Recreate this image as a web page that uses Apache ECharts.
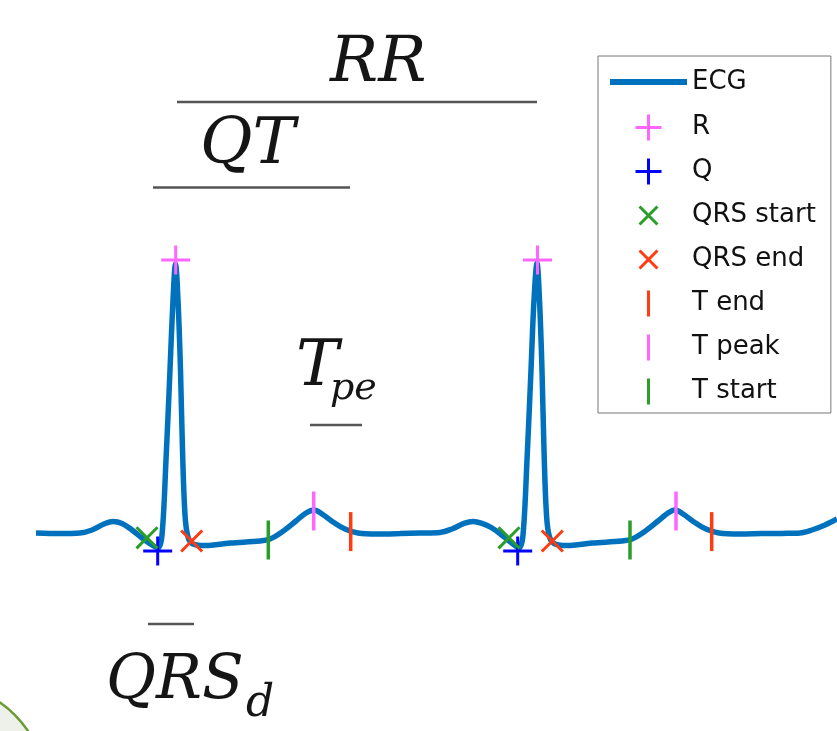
<!DOCTYPE html>
<html>
<head>
<meta charset="utf-8">
<script src="https://cdn.jsdelivr.net/npm/echarts@6/dist/echarts.min.js"></script>
<style>
html,body{margin:0;padding:0;background:#fff;}
#chart{width:837px;height:731px;}
</style>
</head>
<body>
<div id="chart"></div>
<script>
// ECG trace: time (ms) and amplitude (mV)
const ecgTime = [0,48,88,112,136,154,172,192,212,232,244,252,260,268,274,279,284,289,293,298,304,314,338,388,448,468,492,520,540,556,572,594,618,644,682,728,768,808,832,856,874,892,912,934,954,966,974,982,990,996,1002,1007,1012,1016,1021,1027,1038,1062,1112,1172,1192,1216,1244,1264,1278,1294,1316,1340,1366,1408,1452,1492,1528,1552,1578,1602];
const ecgAmp  = [0,-0.003,0,0.015,0.045,0.058,0.048,0.015,-0.025,-0.06,-0.075,-0.01,0.365,0.815,1.165,1.345,1.165,0.815,0.415,0.09,-0.02,-0.055,-0.063,-0.05,-0.04,-0.03,0.005,0.06,0.1,0.115,0.095,0.055,0.02,0,-0.005,-0.003,0,0.003,0.02,0.048,0.058,0.048,0.025,-0.015,-0.055,-0.075,-0.01,0.365,0.815,1.165,1.35,1.165,0.815,0.415,0.09,-0.02,-0.055,-0.063,-0.05,-0.04,-0.03,0.005,0.06,0.1,0.115,0.095,0.055,0.02,0,-0.005,-0.003,-0.002,0,0.015,0.04,0.07];

// Fiducial points (time ms, amplitude mV)
const rTime = [279.4, 1003];       const rAmp = [1.365, 1.365];
const qTime = [243.4, 963.4];      const qAmp = [-0.09, -0.09];
const qrsStartTime = [222, 946];   const qrsStartAmp = [-0.024, -0.024];
const qrsEndTime = [311.4, 1032.6];const qrsEndAmp = [-0.04, -0.04];
const tEndTime = [629.4, 1351.4];  const tEndAmp = [0.007, 0.007];
const tPeakTime = [555.4, 1280];   const tPeakAmp = [0.11, 0.11];
const tStartTime = [464.6, 1188];  const tStartAmp = [-0.035, -0.035];

const seriesNames = ['ECG','R','Q','QRS start','QRS end','T end','T peak','T start'];

const zip = (a, b) => a.map((v, i) => [v, b[i]]);

const PLUS = 'path://M0,-1L0,1M-1,0L1,0';
const CROSS = 'path://M-1,-1L1,1M-1,1L1,-1M-1.45,-1.45M1.45,1.45';
const BAR = 'path://M0,-1L0,1M-1,0M1,0';
const LINEICON = 'path://M0,0L77,0M0,-13M0,13';

function markerSeries(name, xs, ys, symbol, size, color, bw) {
  return {
    name: name, type: 'scatter', data: zip(xs, ys),
    symbol: symbol, symbolSize: size, z: 5,
    itemStyle: { color: color, borderColor: color, borderWidth: bw, opacity: 1 }
  };
}

const magenta = '#ff66ff', blue = '#0000ff', green = '#2a9d2a', red = '#ff3b12';
const ecgColor = '#0072BD';

const chart = echarts.init(document.getElementById('chart'), null, { renderer: 'canvas' });
const mathFont = (sz) => 'italic ' + sz + 'px "DejaVu Serif", serif';
const lineCol = '#555';
const legendData = seriesNames.map((n) => n === 'ECG'
  ? { name: n, icon: LINEICON, itemStyle: { color: ecgColor, borderColor: ecgColor, borderWidth: 6 } }
  : { name: n });

chart.setOption({
  animation: false,
  backgroundColor: '#fff',
  grid: { left: 36, right: 0, top: 33, bottom: 98 },
  xAxis: { type: 'value', min: 0, max: 1602, show: false },
  yAxis: { type: 'value', min: -0.5, max: 2.5, show: false },
  legend: {
    data: legendData,
    orient: 'vertical', left: 598, top: 56,
    itemWidth: 77, itemHeight: 26, itemGap: 15,
    padding: [10, 15, 7, 9],
    borderColor: '#777', borderWidth: 1, backgroundColor: '#fff',
    selectedMode: false,
    itemStyle: { borderWidth: 3 },
    textStyle: { fontFamily: 'DejaVu Sans', fontSize: 26, color: '#111' }
  },
  graphic: [
    { type: 'circle', shape: { cx: -60, cy: 790, r: 106 }, style: { fill: '#eef1ea', stroke: '#6a9a33', lineWidth: 2.5 }, z: 0 },
    { type: 'line', shape: { x1: 177, y1: 102, x2: 537, y2: 102 }, style: { stroke: lineCol, lineWidth: 2.5 } },
    { type: 'line', shape: { x1: 153, y1: 187.5, x2: 350, y2: 187.5 }, style: { stroke: lineCol, lineWidth: 2.5 } },
    { type: 'line', shape: { x1: 310, y1: 425, x2: 362, y2: 425 }, style: { stroke: lineCol, lineWidth: 2.5 } },
    { type: 'line', shape: { x1: 148, y1: 624, x2: 194, y2: 624 }, style: { stroke: lineCol, lineWidth: 2.5 } },
    { type: 'text', style: { text: 'RR', x: 330, y: 32, font: mathFont(64), fill: '#151515', verticalAlign: 'top' } },
    { type: 'text', style: { text: 'QT', x: 200, y: 114.5, font: mathFont(64), fill: '#151515', verticalAlign: 'top' } },
    { type: 'text', style: { text: 'T', x: 296, y: 336, font: mathFont(64), fill: '#151515', verticalAlign: 'top' } },
    { type: 'text', style: { text: 'pe', x: 330, y: 370.5, font: mathFont(38), fill: '#151515', verticalAlign: 'top' } },
    { type: 'text', style: { text: 'QRS', x: 106, y: 652, font: mathFont(61), fill: '#151515', verticalAlign: 'top' } },
    { type: 'text', style: { text: 'd', x: 246, y: 683, font: mathFont(44), fill: '#151515', verticalAlign: 'top' } }
  ],
  series: [
    {
      name: 'ECG', type: 'line', data: zip(ecgTime, ecgAmp),
      symbol: 'none', smooth: 0.35, z: 3,
      lineStyle: { width: 5.5, color: ecgColor },
      itemStyle: { color: ecgColor }
    },
    markerSeries('R', rTime, rAmp, PLUS, 29, magenta, 3),
    markerSeries('Q', qTime, qAmp, PLUS, 29, blue, 3),
    markerSeries('QRS start', qrsStartTime, qrsStartAmp, CROSS, 30.5, green, 3),
    markerSeries('QRS end', qrsEndTime, qrsEndAmp, CROSS, 30.5, red, 3),
    markerSeries('T end', tEndTime, tEndAmp, BAR, 39, red, 3.5),
    markerSeries('T peak', tPeakTime, tPeakAmp, BAR, 39, magenta, 3.5),
    markerSeries('T start', tStartTime, tStartAmp, BAR, 39, green, 3.5)
  ]
});
</script>
</body>
</html>
